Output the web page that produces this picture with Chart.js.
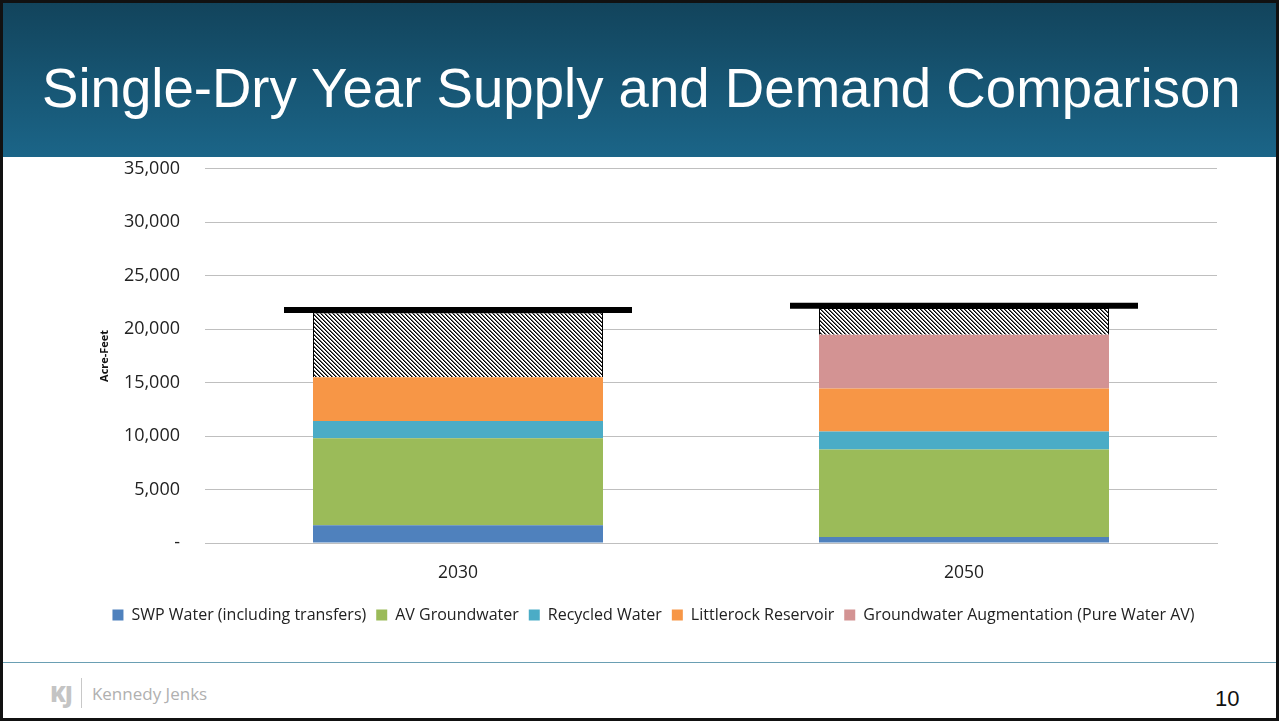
<!DOCTYPE html>
<html>
<head>
<meta charset="utf-8">
<script src="https://cdn.jsdelivr.net/npm/chart.js@4.4.1/dist/chart.umd.min.js"></script>
<style>
  html, body { margin: 0; padding: 0; background: #fff; }
  #slide { position: relative; width: 1279px; height: 721px; box-sizing: border-box; border: 3px solid #111; overflow: hidden; background: #fff; }
  #header { position: absolute; left: 0; top: 0; width: 100%; height: 154px; background: linear-gradient(#12445c, #1b6588); z-index: 2; }
  #title { position: absolute; left: 39px; top: 59px; font-family: "Liberation Sans", Arial, sans-serif; font-size: 54.6px; color: #fff; white-space: nowrap; line-height: 1; }
  #chartBox { position: absolute; left: -3px; top: 130px; width: 1279px; height: 527px; z-index: 1; }
  #footLine { position: absolute; left: 0; top: 659px; width: 100%; height: 1px; background: #6a9fb3; }
  #logo { position: absolute; left: 47px; top: 674px; font-family: "Open Sans", sans-serif; display: flex; align-items: center; }
  #logo .kj { font-weight: 800; font-size: 23px; color: #c4c4c4; letter-spacing: -1px; }
  #logo .bar { width: 1px; height: 30px; background: #c8c8c8; margin: 0 10px 0 9px; }
  #logo .name { font-size: 17px; color: #b0b0b0; }
  #page { position: absolute; left: 1212px; top: 683px; font-family: "Liberation Sans", Arial, sans-serif; font-size: 22px; color: #111; }
</style>
</head>
<body>
<div id="slide">
  <div id="header"><div id="title">Single-Dry Year Supply and Demand Comparison</div></div>
  <div id="chartBox"><canvas id="c"></canvas></div>
  <div id="footLine"></div>
  <div id="logo"><span class="kj">KJ</span><span class="bar"></span><span class="name">Kennedy Jenks</span></div>
  <div id="page">10</div>
</div>
<script>
// ---- data ----
const years = ["2030", "2050"];
const swpWater = [1650, 550];
const avGroundwater = [8150, 8200];
const recycledWater = [1600, 1680];
const littlerockReservoir = [4100, 4020];
const pureWaterAV = [0, 5030];
const shortfall = [6050, 2500];
const demand = [21800, 22200];
const yTicks = [0, 5000, 10000, 15000, 20000, 25000, 30000, 35000];

// hatch pattern
function makeHatch() {
  const c = document.createElement("canvas");
  c.width = 4; c.height = 4;
  const x = c.getContext("2d");
  x.fillStyle = "#fff"; x.fillRect(0, 0, 4, 4);
  for (let i = 0; i < 4; i++) {
    for (let j = 0; j < 4; j++) {
      const d = ((i - j) % 4 + 4) % 4;
      if (d === 0) { x.fillStyle = "#000"; x.fillRect(i, j, 1, 1); }
      else if (d === 1) { x.fillStyle = "#666"; x.fillRect(i, j, 1, 1); }
    }
  }
  return x.createPattern(c, "repeat");
}
const hatch = makeHatch();

const FONT = "'Open Sans', 'Noto Sans', sans-serif";
const barPct = 290 / 506;

function barDs(label, data, color, extra) {
  return Object.assign({
    type: "bar", label, data, backgroundColor: color, borderWidth: 0,
    stack: "supply", categoryPercentage: 1, barPercentage: barPct, order: 2
  }, extra || {});
}

new Chart(document.getElementById("c"), {
  data: {
    labels: years,
    datasets: [
      barDs("SWP Water (including transfers)", swpWater, "#4f81bd"),
      barDs("AV Groundwater", avGroundwater, "#9bbb59"),
      barDs("Recycled Water", recycledWater, "#4bacc6"),
      barDs("Littlerock Reservoir", littlerockReservoir, "#f79646"),
      barDs("Groundwater Augmentation (Pure Water AV)", pureWaterAV, "#d39393"),
      barDs("Shortfall", shortfall, hatch, { borderColor: "#000", borderWidth: 1 }),
      {
        type: "line", label: "Demand", data: demand, stack: "demand",
        showLine: false, pointStyle: "line", pointRadius: 174, pointHoverRadius: 174,
        pointBorderWidth: 6, pointHoverBorderWidth: 6, clip: false,
        borderColor: "#000", backgroundColor: "#000", order: 1
      }
    ]
  },
  options: {
    responsive: true, maintainAspectRatio: false, animation: false,
    events: [],
    layout: { autoPadding: false, padding: { left: 90, right: 62, top: 0, bottom: 27 } },
    plugins: {
      tooltip: { enabled: false },
      legend: {
        position: "bottom",
        labels: {
          filter: (item) => item.text !== "Shortfall" && item.text !== "Demand",
          boxWidth: 11, boxHeight: 11, padding: 10,
          color: "#222", font: { family: FONT, size: 16 }
        }
      }
    },
    scales: {
      x: {
        stacked: true,
        grid: { display: false, drawTicks: false },
        border: { display: true, color: "#bfbfbf", width: 1 },
        ticks: { color: "#222", font: { family: FONT, size: 17.5 }, padding: 20 },
        afterFit: (s) => { s.height = 54; }
      },
      y: {
        stacked: true, min: 0, max: 35000,
        afterBuildTicks: (s) => { s.ticks = yTicks.map(v => ({ value: v })); },
        grid: { color: "#bfbfbf", lineWidth: 1, drawTicks: false },
        border: { display: false },
        ticks: {
          color: "#222", font: { family: FONT, size: 18 }, padding: 25,
          callback: (v) => v === 0 ? "-" : v.toLocaleString("en-US")
        },
        title: { display: true, text: "Acre-Feet", color: "#111", font: { family: FONT, size: 11, weight: "bold" }, padding: { top: 8, bottom: 0 } },
        afterFit: (s) => { s.width = 115; }
      }
    }
  }
});
</script>
</body>
</html>
